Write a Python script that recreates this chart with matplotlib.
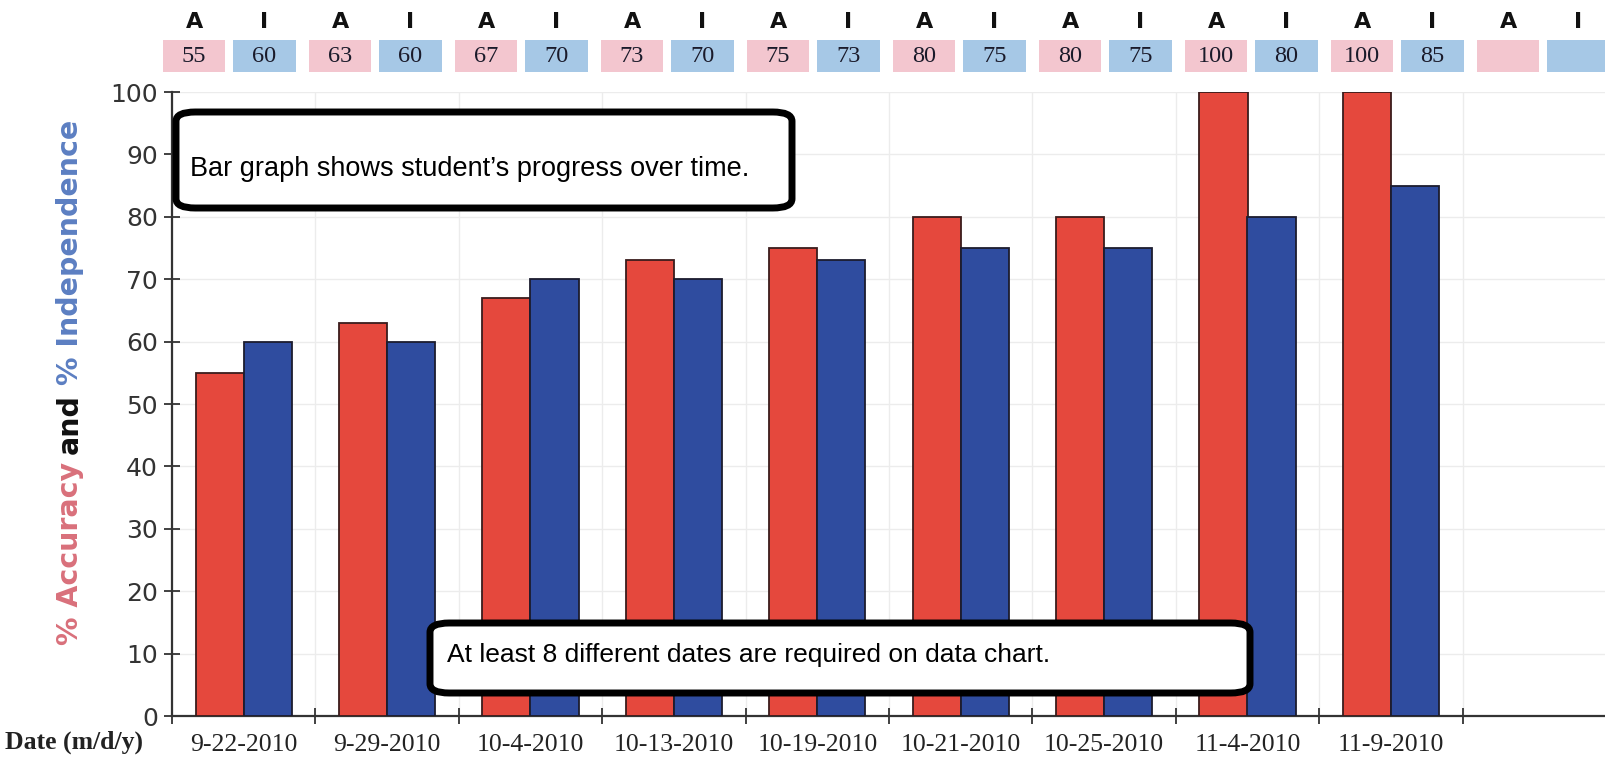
"""Student progress bar chart: % accuracy and % independence per session date."""

import matplotlib

matplotlib.use("Agg")
import matplotlib.pyplot as plt
from matplotlib.patches import FancyBboxPatch, Rectangle
from matplotlib.ticker import FixedLocator, MultipleLocator

DATES = ["9-22-2010", "9-29-2010", "10-4-2010", "10-13-2010", "10-19-2010",
         "10-21-2010", "10-25-2010", "11-4-2010", "11-9-2010"]
ACCURACY = [55, 63, 67, 73, 75, 80, 80, 100, 100]
INDEPENDENCE = [60, 60, 70, 70, 73, 75, 75, 80, 85]
N_SLOTS = 10  # header/axis has one extra empty slot

RED = "#E5483D"
BLUE = "#2F4C9F"
PINK_BOX = "#F3C6CF"
BLUE_BOX = "#A6C8E6"

W, H = 1606, 772
fig = plt.figure(figsize=(W / 100, H / 100), dpi=100)
ax = fig.add_axes([172 / W, (H - 716) / H, (W - 172) / W, 624 / H])

centers = [i + 0.5 for i in range(len(DATES))]
bar_w = 0.336
ax.bar([c - bar_w / 2 for c in centers], ACCURACY, width=bar_w, color=RED,
       edgecolor="#3a1c1c", linewidth=1.3, zorder=3)
ax.bar([c + bar_w / 2 for c in centers], INDEPENDENCE, width=bar_w, color=BLUE,
       edgecolor="#1c1c2e", linewidth=1.3, zorder=3)

ax.set_xlim(0, N_SLOTS)
ax.set_ylim(0, 100)
ax.yaxis.set_major_locator(MultipleLocator(10))
ax.xaxis.set_major_locator(FixedLocator(range(N_SLOTS + 1)))
ax.xaxis.set_minor_locator(FixedLocator(centers))
ax.set_xticklabels([])
ax.set_xticklabels(DATES, minor=True, family="Liberation Serif", fontsize=18.5,
                   color="#222222")
ax.tick_params(axis="x", which="minor", length=0, pad=13)
ax.tick_params(axis="x", which="major", direction="inout", length=12, width=1.3,
               color="#333333")
ax.tick_params(axis="y", direction="inout", length=12, width=1.3, color="#333333",
               labelsize=18, labelcolor="#333333", pad=4)
for side in ("top", "right"):
    ax.spines[side].set_visible(False)
for side in ("left", "bottom"):
    ax.spines[side].set_linewidth(1.6)
    ax.spines[side].set_color("#333333")
ax.grid(True, which="major", color="#ececec", linewidth=1, zorder=0)
ax.set_axisbelow(True)

# y label in three colours
ylab_kw = dict(rotation=90, ha="center", va="bottom", fontsize=20.5)
t1 = fig.text(70 / W, (H - 645) / H, "% Accuracy", color="#D9707B",
              fontweight="semibold", **ylab_kw)
t2 = ax.annotate("and", xy=(0.5, 1), xycoords=t1, xytext=(0, 6),
                 textcoords="offset points", color="#111111", fontweight="bold",
                 annotation_clip=False, **ylab_kw)
ax.annotate("% Independence", xy=(0.5, 1), xycoords=t2, xytext=(0, 6),
            textcoords="offset points", color="#5C7FC2", fontweight="semibold",
            annotation_clip=False, **ylab_kw)

fig.text(5 / W, (H - 742) / H, "Date (m/d/y)", family="Liberation Serif",
         fontweight="bold", fontsize=18.5, va="center", ha="left", color="#222222")

# header row of A / I values
hax = fig.add_axes([163 / W, (H - 72) / H, (W - 163) / W, 64 / H])
hax.set_xlim(0, (W - 163) / 146)
hax.set_ylim(0, 1)
hax.axis("off")
for k in range(N_SLOTS):
    a_val = ACCURACY[k] if k < len(ACCURACY) else None
    i_val = INDEPENDENCE[k] if k < len(INDEPENDENCE) else None
    for x0, width, color, letter, val in ((k, 0.425, PINK_BOX, "A", a_val),
                                          (k + 0.48, 0.43, BLUE_BOX, "I", i_val)):
        hax.add_patch(Rectangle((x0, 0), width, 0.5, facecolor=color,
                                edgecolor="none", clip_on=False))
        hax.text(x0 + width / 2, 0.78, letter, ha="center", va="center",
                 fontsize=16, fontweight="bold", color="#111111", clip_on=False)
        if val is not None:
            hax.text(x0 + width / 2, 0.25, str(val), ha="center", va="center",
                     family="Liberation Serif", fontsize=17.5, color="#1a1a2a",
                     clip_on=False)

# callout boxes
callouts = [
    ((176, 112, 792, 208), (190, 169), "Bar graph shows student\u2019s progress over time.", 19.5),
    ((430, 623, 1250, 693), (447, 655), "At least 8 different dates are required on data chart.", 19),
]
for (x0, y0, x1, y1), (tx, ty), text, size in callouts:
    box = FancyBboxPatch((x0 / W, (H - y1) / H), (x1 - x0) / W, (y1 - y0) / H,
                         boxstyle="round,pad=0,rounding_size=0.012",
                         transform=fig.transFigure, facecolor="white",
                         edgecolor="black", linewidth=5, zorder=10)
    fig.patches.append(box)
    fig.text(tx / W, (H - ty) / H, text, family="Liberation Sans", fontsize=size,
             ha="left", va="center", color="black", zorder=11)

fig.savefig("out.png", dpi=100)
